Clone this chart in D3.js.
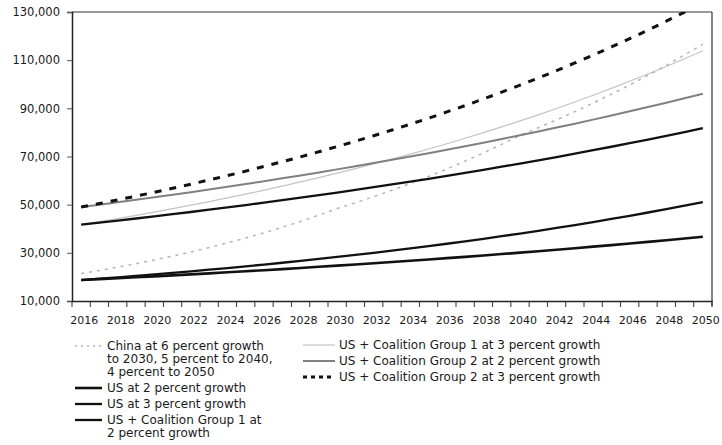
<!DOCTYPE html>
<html><head><meta charset="utf-8">
<script src="https://cdn.jsdelivr.net/npm/d3@7"></script>
<style>
body{margin:0;background:#fff}
svg text{font-family:"DejaVu Sans",sans-serif;fill:#1a1a1a}
</style>
</head><body>
<svg id="chart" width="722" height="445"></svg>
<script>
// ---- data ----
const years = [2016,2017,2018,2019,2020,2021,2022,2023,2024,2025,2026,2027,2028,2029,2030,2031,2032,2033,2034,2035,2036,2037,2038,2039,2040,2041,2042,2043,2044,2045,2046,2047,2048,2049,2050];
const yTickValues = [10000,30000,50000,70000,90000,110000,130000];
const xTickLabels = [2016,2018,2020,2022,2024,2026,2028,2030,2032,2034,2036,2038,2040,2042,2044,2046,2048,2050];

const china = [21400,22680,24050,25490,27020,28640,30360,32180,34110,36150,38320,40620,43060,45650,48380,50800,53340,56010,58810,61750,64840,68080,71480,75060,78810,81960,85240,88650,92200,95890,99720,103710,107860,112170,116660];
const us2 = [18700,19070,19460,19840,20240,20650,21060,21480,21910,22350,22800,23250,23720,24190,24670,25170,25670,26180,26710,27240,27790,28340,28910,29490,30080,30680,31290,31920,32560,33210,33870,34550,35240,35950,36670];
const us3 = [18700,19260,19840,20430,21050,21680,22330,23000,23690,24400,25130,25890,26660,27460,28290,29130,30010,30910,31840,32790,33770,34790,35830,36910,38010,39150,40330,41540,42780,44070,45390,46750,48150,49600,51090];
const g1at2 = [41700,42530,43380,44250,45140,46040,46960,47900,48860,49840,50830,51850,52890,53940,55020,56120,57250,58390,59560,60750,61960,63200,64470,65760,67070,68410,69780,71180,72600,74050,75530,77040,78590,80160,81760];
const g1at3 = [41700,42950,44240,45570,46930,48340,49790,51290,52820,54410,56040,57720,59450,61240,63080,64970,66920,68920,70990,73120,75310,77570,79900,82300,84770,87310,89930,92630,95410,98270,101220,104250,107380,110600,113920];
const g2at2 = [49000,49980,50980,52000,53040,54100,55180,56290,57410,58560,59730,60930,62140,63390,64650,65950,67270,68610,69980,71380,72810,74270,75750,77270,78810,80390,82000,83640,85310,87020,88760,90530,92340,94190,96070];
const g2at3 = [49000,50470,51980,53540,55150,56800,58510,60260,62070,63930,65850,67830,69860,71960,74120,76340,78630,80990,83420,85920,88500,91150,93890,96710,99610,102600,105670,108840,112110,115470,118940,122500,126180,129960,133860];

const seriesNames = [
  ["China at 6 percent growth","to 2030, 5 percent to 2040,","4 percent to 2050"],
  ["US at 2 percent growth"],
  ["US at 3 percent growth"],
  ["US + Coalition Group 1 at","2 percent growth"],
  ["US + Coalition Group 1 at 3 percent growth"],
  ["US + Coalition Group 2 at 2 percent growth"],
  ["US + Coalition Group 2 at 3 percent growth"]
];
const seriesValues = [china, us2, us3, g1at2, g1at3, g2at2, g2at3];

// ---- styles ----
const styles = [
  {stroke:"#b4b4b4", width:1.5, dash:"3,5", legendDash:"2,4"},
  {stroke:"#111", width:2.6, dash:null},
  {stroke:"#111", width:2.3, dash:null},
  {stroke:"#111", width:2.3, dash:null},
  {stroke:"#c4c4c4", width:1.2, dash:null},
  {stroke:"#808080", width:2, dash:null},
  {stroke:"#111", width:3, dash:"7,8", legendDash:"4,4"}
];

const svg = d3.select("#chart");
const L = 72, R = 712, T = 12, B = 301;
const x = d3.scaleBand().domain(years).range([L, R]);
const y = d3.scaleLinear().domain([10000, 130000]).range([B, T]);
const cx = d => x(d) + x.bandwidth() / 2;

svg.append("defs").append("clipPath").attr("id","plotClip")
  .append("rect").attr("x", L).attr("y", T).attr("width", R - L).attr("height", B - T);

// frame top/right
svg.append("line").attr("x1", L).attr("x2", R).attr("y1", T).attr("y2", T)
  .attr("stroke", "#333").attr("stroke-width", 1.2);
svg.append("line").attr("x1", R).attr("x2", R).attr("y1", T).attr("y2", B + 5)
  .attr("stroke", "#333").attr("stroke-width", 1.2);

// y axis
const yAxis = svg.append("g").attr("transform", `translate(${L},0)`)
  .call(d3.axisLeft(y).tickValues(yTickValues).tickSize(5).tickPadding(7).tickFormat(d3.format(",")));
yAxis.select(".domain").attr("stroke", "#222").attr("stroke-width", 1.5);
yAxis.selectAll(".tick line").attr("stroke", "#555");
yAxis.selectAll("text").style("font-size", "11.5px").attr("fill", "#1a1a1a");

// x axis
const xAxis = svg.append("g").attr("transform", `translate(0,${B})`)
  .call(d3.axisBottom(x).tickValues(xTickLabels).tickSize(0).tickPadding(15));
xAxis.select(".domain").attr("stroke", "#222").attr("stroke-width", 1.5);
xAxis.selectAll("text").style("font-size", "11px").attr("fill", "#1a1a1a").attr("dx", 3);
// x tick marks at category boundaries
const bounds = years.map(d => x(d)).concat([x.range()[1]]);
svg.append("g").selectAll("line").data(bounds).join("line")
  .attr("x1", d => d).attr("x2", d => d).attr("y1", B).attr("y2", B + 6)
  .attr("stroke", "#333").attr("stroke-width", 1);

// lines
const line = d3.line().x((d, i) => cx(years[i])).y(d => y(d));
const plot = svg.append("g").attr("clip-path", "url(#plotClip)");
const drawOrder = [4, 0, 5, 3, 2, 1, 6];
drawOrder.forEach(k => {
  const s = styles[k];
  plot.append("path").datum(seriesValues[k])
    .attr("d", line).attr("fill", "none")
    .attr("stroke", s.stroke).attr("stroke-width", s.width)
    .attr("stroke-dasharray", s.dash)
    .attr("stroke-linejoin", "round");
});

// legend
const legendPos = [
  {col:0, y:346}, {col:0, y:388}, {col:0, y:404}, {col:0, y:420},
  {col:1, y:345}, {col:1, y:361}, {col:1, y:377}
];
const cols = [{sx1:75, sx2:102, tx:107}, {sx1:303, sx2:335, tx:339}];
const lg = svg.append("g");
seriesNames.forEach((lines, k) => {
  const p = legendPos[k], c = cols[p.col], s = styles[k];
  lg.append("line").attr("x1", c.sx1).attr("x2", c.sx2).attr("y1", p.y).attr("y2", p.y)
    .attr("stroke", s.stroke).attr("stroke-width", s.width)
    .attr("stroke-dasharray", s.legendDash || null);
  lines.forEach((t, j) => {
    lg.append("text").attr("x", c.tx).attr("y", p.y + j * 13).attr("dy", "0.36em")
      .style("font-size", "12px").text(t);
  });
});
</script>
</body></html>
